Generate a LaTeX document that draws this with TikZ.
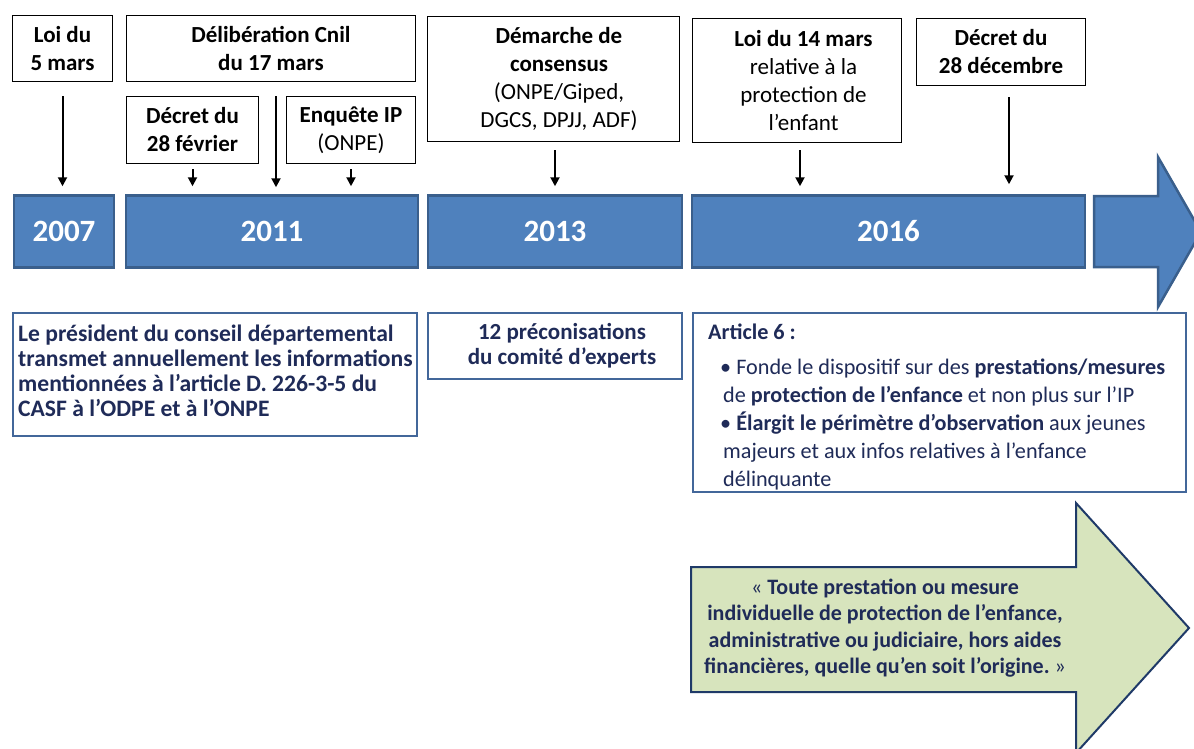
\documentclass[tikz,border=0pt]{standalone}
\usepackage{fontspec}
\setmainfont{Carlito}
\usetikzlibrary{arrows.meta}
\definecolor{barblue}{HTML}{4F81BD}
\definecolor{barline}{HTML}{3A5F8C}
\definecolor{navy}{HTML}{1F2B58}
\definecolor{boxline}{HTML}{43679A}
\definecolor{lightgreen}{HTML}{D7E4BD}
\definecolor{arrowline}{HTML}{1F3A68}
\begin{document}
\begin{tikzpicture}[x=1pt,y=-1pt,
  topbox/.style={draw=black,line width=1.3pt,inner sep=0pt,align=flush center,font=\fontsize{23}{28}\selectfont},
  toptext/.style={inner sep=0pt,align=flush center,font=\fontsize{23}{28}\selectfont},
  yearbar/.style={draw=barline,fill=barblue,line width=2.5pt,inner sep=0pt,minimum height=72pt,text=white,font=\fontsize{31}{34}\selectfont\bfseries},
  infobox/.style={draw=boxline,line width=2pt,inner sep=0pt,text=navy,font=\fontsize{23}{25}\selectfont\bfseries},
  boxtext/.style={inner sep=0pt,text=navy},
  tick/.style={line width=2pt,-{Triangle[width=9pt,length=9pt]}},
  bigarrow/.style={draw=barline,fill=barblue,line width=2.5pt,line join=miter},
  greenarrow/.style={draw=arrowline,fill=lightgreen,line width=2pt,line join=miter},
]
\useasboundingbox (0,0) rectangle (1194,749);
\fill[white] (0,0) rectangle (1194,749);

% top boxes
\node[topbox,minimum width=100pt,minimum height=66pt] (lo5) at (62.5,48.5) {\textbf{Loi du}\\\textbf{5 mars}};
\node[topbox,minimum width=289pt,minimum height=66pt] (cnil) at (271,48.5) {\textbf{Délibération Cnil}\\\textbf{du 17 mars}};
\node[topbox,minimum width=132pt,minimum height=67pt] (d28f) at (192.5,130) {\textbf{Décret du}\\\textbf{28 février}};
\node[topbox,minimum width=129pt,minimum height=67pt] (enq) at (351,130) {\textbf{Enquête IP}\\(ONPE)};
\node[topbox,minimum width=252pt,minimum height=125pt] (dem) at (553.5,79) {};
\node[toptext] (demtext) at (559,79) {\textbf{Démarche de}\\\textbf{consensus}\\(ONPE/Giped,\\DGCS, DPJJ, ADF)};
\node[topbox,minimum width=209pt,minimum height=124pt] (loi14) at (797,80.5) {};
\node[toptext] (loi14text) at (803.5,80.5) {\textbf{Loi du 14 mars}\\relative à la\\protection de\\l’enfant};
\node[topbox,minimum width=169pt,minimum height=67pt] (d28d) at (1001,52) {\textbf{Décret du}\\\textbf{28 décembre}};

% year bars
\node[yearbar,minimum width=100pt] (y07) at (64,231.5) {2007};
\node[yearbar,minimum width=292pt] (y11) at (272,231.5) {2011};
\node[yearbar,minimum width=254pt] (y13) at (555,231.5) {2013};
\node[yearbar,minimum width=393pt] (y16) at (888.5,231.5) {2016};
\draw[bigarrow] (1094,196) -- (1158,196) -- (1158,157) -- (1201,232) -- (1158,307) -- (1158,267) -- (1094,267) -- cycle;

% connectors
\draw[tick,shorten <=14pt,shorten >=8pt] (lo5.south) -- (lo5.south |- y07.north);
\draw[tick,shorten <=5pt,shorten >=8pt] (d28f.south) -- (d28f.south |- y11.north);
\draw[tick,shorten <=14pt,shorten >=7pt] ([xshift=5pt]cnil.south) -- ([xshift=5pt]cnil.south |- y11.north);
\draw[tick,shorten <=5pt,shorten >=8pt] (enq.south) -- (enq.south |- y11.north);
\draw[tick,shorten <=8pt,shorten >=8pt] ([xshift=1.5pt]dem.south) -- ([xshift=1.5pt]dem.south |- y13.north);
\draw[tick,shorten <=7pt,shorten >=8pt] ([xshift=3pt]loi14.south) -- ([xshift=3pt]loi14.south |- y16.north);
\draw[tick,shorten <=11pt,shorten >=10pt] ([xshift=8pt]d28d.south) -- ([xshift=8pt]d28d.south |- y16.north);

% bottom boxes
\node[infobox,minimum width=404pt,minimum height=123pt] (pres) at (215,374.5) {};
\node[boxtext,anchor=west,text width=398pt,align=flush left,font=\fontsize{23.6}{25}\selectfont\bfseries] (prestext) at (18,371) {Le président du conseil départemental\\transmet annuellement les informations\\mentionnées à l’article D. 226-3-5 du\\CASF à l’ODPE et à l’ONPE};
\node[infobox,minimum width=254pt,minimum height=66pt] (prec) at (555,346) {};
\node[boxtext,align=flush center,font=\fontsize{23}{25}\selectfont\bfseries] (prectext) at (562,346) {12 préconisations\\du comité d’experts};
\node[infobox,minimum width=493pt,minimum height=179pt] (art) at (939.5,402.5) {};
\node[boxtext,anchor=west,text width=475pt,align=flush left,font=\fontsize{22.2}{28}\selectfont] (arttext) at (708,407) {\textbf{Article 6~:}\\[7pt]
\hspace*{12pt}•\hspace{5pt}Fonde le dispositif sur des \textbf{prestations/mesures}\\
\hspace*{15pt}de \textbf{protection de l’enfance} et non plus sur l’IP\\
\hspace*{12pt}•\hspace{5pt}\textbf{Élargit le périmètre d’observation} aux jeunes\\
\hspace*{15pt}majeurs et aux infos relatives à l’enfance\\
\hspace*{15pt}délinquante};

% green arrow
\draw[greenarrow] (691,567) -- (1076,567) -- (1076,503) -- (1189,628) -- (1076,753) -- (1076,692) -- (691,692) -- cycle;
\node[boxtext,align=flush center,font=\fontsize{22}{26.5}\selectfont] (quote) at (885,628) {«~\textbf{Toute prestation ou mesure}\\\textbf{individuelle de protection de l’enfance,}\\\textbf{administrative ou judiciaire, hors aides}\\\textbf{financières, quelle qu’en soit l’origine.}~»};
\end{tikzpicture}
\end{document}
